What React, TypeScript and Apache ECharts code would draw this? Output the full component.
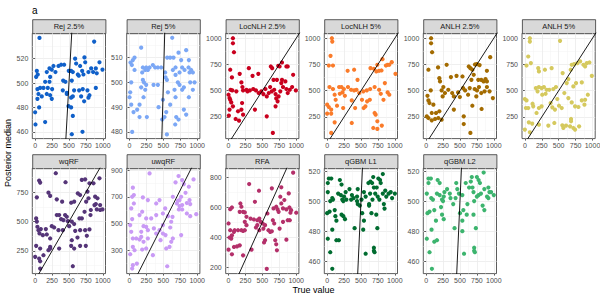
import React, { useEffect, useRef } from "react";
import * as echarts from "echarts";

// ---------- data ----------
const panelTitles = [
  "Rej 2.5%", "Rej 5%", "LocNLH 2.5%", "LocNLH 5%", "ANLH 2.5%", "ANLH 5%",
  "wqRF", "uwqRF", "RFA", "qGBM L1", "qGBM L2",
];

const xTicks = [0, 250, 500, 750, 1000];
const xRange = [-42, 1040];

const rej25 = [[64,537],[872,534],[591,520],[729,521],[740,517],[951,517],[271,514],[345,514],[384,515],[429,515],[606,516],[665,514],[25,510],[15,505],[39,507],[172,509],[212,512],[246,511],[300,509],[497,510],[532,510],[557,509],[631,507],[695,510],[788,509],[828,512],[857,509],[897,512],[911,508],[995,511],[148,501],[222,505],[212,501],[414,502],[448,501],[542,502],[645,506],[714,507],[74,496],[34,495],[123,496],[187,496],[251,495],[409,494],[468,492],[576,494],[650,494],[704,495],[773,494],[897,496],[49,491],[34,487],[98,489],[172,491],[222,490],[246,487],[468,491],[532,488],[557,489],[680,489],[788,488],[724,485],[803,490],[0,476],[59,480],[493,481],[532,480],[557,473],[148,468],[5,466],[700,460],[542,458]];
const rej5 = [[631,518],[172,514],[557,510],[601,510],[650,510],[724,512],[837,513],[15,508],[49,509],[74,510],[34,507],[74,505],[197,506],[246,506],[296,506],[345,507],[379,506],[419,506],[468,506],[187,504],[232,505],[271,505],[527,504],[552,501],[640,505],[680,503],[739,504],[778,506],[813,505],[872,506],[887,504],[911,505],[936,504],[763,509],[877,509],[680,506],[25,500],[10,496],[197,501],[212,500],[246,499],[172,498],[355,499],[419,499],[532,502],[567,496],[665,497],[714,500],[739,499],[778,497],[803,498],[897,500],[961,500],[936,497],[0,494],[25,491],[148,491],[207,494],[232,497],[493,493],[601,491],[680,494],[877,494],[59,488],[113,489],[148,486],[256,486],[429,490],[542,488],[690,486],[724,485],[803,489],[837,487],[517,486],[483,485],[675,483],[39,480],[552,479]];
const locNLH25 = [[65,1000],[65,952],[80,867],[25,700],[50,627],[30,509],[55,503],[0,462],[15,430],[25,414],[40,389],[65,351],[15,320],[5,263],[105,231],[155,215],[140,304],[190,320],[200,383],[165,661],[300,715],[355,642],[440,661],[190,579],[205,535],[215,503],[265,509],[315,503],[365,516],[405,503],[445,478],[390,320],[215,272],[485,494],[515,468],[545,516],[565,446],[595,478],[565,256],[655,98],[625,731],[645,715],[715,604],[735,737],[755,731],[790,769],[855,731],[875,731],[790,604],[840,589],[780,573],[665,604],[675,509],[695,468],[705,427],[695,351],[725,399],[740,446],[765,494],[805,535],[855,516],[875,478],[905,509],[940,535],[955,652],[995,503],[615,535],[640,494],[115,494],[280,494]];
const locNLH5 = [[70,1000],[76,968],[50,832],[25,740],[86,740],[303,690],[399,700],[641,715],[692,709],[742,747],[818,801],[727,684],[768,690],[803,693],[869,740],[894,747],[919,747],[955,772],[1010,661],[853,573],[449,604],[35,535],[86,516],[111,462],[126,414],[177,535],[212,535],[247,516],[227,484],[187,471],[262,452],[308,535],[354,509],[399,503],[434,509],[475,478],[535,494],[586,503],[636,516],[702,535],[768,509],[793,471],[833,414],[894,484],[919,462],[515,414],[566,351],[540,335],[414,335],[364,408],[237,335],[146,357],[0,367],[25,345],[0,282],[60,282],[60,320],[111,199],[60,98],[364,193],[702,288],[717,272],[742,209],[682,145],[742,136],[808,168],[591,399],[631,414]];
const anlh25 = [[73,1000],[73,952],[88,867],[34,700],[176,722],[303,747],[449,642],[537,636],[366,630],[195,620],[205,589],[630,731],[654,715],[683,700],[722,750],[751,753],[790,744],[669,604],[703,652],[771,604],[815,604],[849,589],[898,589],[878,611],[947,820],[898,690],[20,452],[68,503],[34,408],[49,383],[107,367],[83,288],[10,256],[34,240],[83,218],[132,231],[180,240],[146,288],[195,304],[229,224],[229,503],[254,535],[278,478],[244,446],[327,509],[385,478],[410,446],[473,484],[498,440],[410,320],[546,525],[576,503],[620,462],[644,525],[556,256],[556,183],[751,503],[742,446],[815,478],[864,494],[898,535],[937,494],[820,326],[683,357],[654,98],[986,430],[781,535],[717,516]];
const anlh5 = [[74,1000],[74,968],[520,975],[50,826],[25,740],[89,763],[198,715],[208,684],[297,700],[396,715],[559,668],[678,700],[693,747],[728,753],[777,763],[817,779],[866,747],[891,731],[916,763],[955,769],[990,642],[842,579],[757,573],[643,611],[619,573],[717,541],[163,525],[208,535],[248,525],[282,535],[322,509],[361,509],[421,516],[460,535],[188,494],[257,462],[307,471],[0,421],[25,408],[50,335],[15,335],[114,376],[124,351],[173,288],[248,351],[208,335],[381,383],[406,342],[445,320],[480,421],[505,357],[545,335],[584,478],[643,430],[693,389],[742,351],[792,345],[842,408],[891,414],[931,462],[881,367],[683,231],[683,209],[59,199],[109,187],[0,130],[74,104],[208,177],[347,168],[436,193],[554,171],[569,146],[609,168],[668,161],[717,145],[742,130],[802,161]];
const wqrf = [[305,913],[59,850],[74,833],[449,836],[690,856],[739,861],[951,870],[25,707],[197,747],[222,719],[320,690],[399,670],[532,661],[577,670],[631,741],[665,727],[774,756],[803,827],[862,827],[754,670],[789,699],[887,713],[921,699],[877,641],[961,641],[897,650],[961,599],[995,604],[912,604],[823,599],[730,584],[818,556],[690,527],[655,527],[15,527],[25,500],[34,456],[49,427],[64,399],[113,384],[84,436],[158,436],[172,390],[222,356],[246,461],[281,450],[320,556],[355,556],[384,521],[419,513],[443,556],[468,541],[483,504],[503,461],[542,500],[577,479],[592,421],[665,427],[739,427],[803,433],[764,379],[626,364],[542,341],[409,427],[345,427],[532,293],[577,270],[665,293],[749,293],[355,270],[222,284],[222,270],[197,256],[15,293],[74,270],[0,199],[59,184],[74,161],[123,213],[557,119],[74,99]];
const uwqrf = [[296,875],[49,768],[64,713],[39,700],[64,650],[197,695],[271,675],[394,650],[443,675],[640,700],[680,808],[724,855],[778,825],[803,795],[946,830],[877,775],[828,730],[763,700],[739,675],[714,670],[699,650],[739,630],[778,638],[847,653],[887,675],[897,645],[778,605],[729,605],[847,575],[897,555],[986,570],[25,613],[39,533],[10,488],[148,563],[187,588],[246,538],[320,538],[394,563],[493,575],[527,613],[567,555],[635,550],[616,513],[601,470],[493,488],[443,450],[360,463],[271,450],[173,438],[246,475],[207,480],[25,438],[99,388],[49,388],[148,380],[173,400],[207,363],[271,388],[394,425],[493,425],[532,413],[616,363],[542,313],[591,325],[763,413],[640,388],[49,325],[10,270],[74,300],[187,305],[246,313],[345,263],[108,200],[49,188],[39,163],[557,180],[458,375]];
const rfa = [[305,755],[450,710],[640,726],[780,733],[955,831],[0,491],[25,587],[50,598],[175,625],[190,603],[165,569],[215,569],[240,565],[265,536],[240,502],[265,480],[240,446],[215,442],[190,446],[140,446],[90,446],[25,446],[50,412],[15,397],[40,390],[80,435],[390,636],[325,524],[375,518],[425,513],[455,524],[475,502],[505,491],[425,480],[405,464],[455,446],[515,457],[540,480],[575,558],[665,592],[655,513],[675,491],[615,435],[590,446],[640,439],[705,603],[725,585],[740,569],[765,670],[780,625],[805,592],[825,648],[855,585],[890,692],[900,598],[925,580],[915,563],[875,513],[905,513],[1000,563],[805,502],[755,457],[690,379],[705,352],[855,383],[715,312],[540,379],[525,364],[340,316],[80,334],[125,338],[165,345],[0,316],[50,285],[215,278],[565,188]];
const qgbm1 = [[10,512],[25,515],[61,515],[10,506],[76,502],[86,501],[46,500],[0,492],[36,493],[10,475],[46,466],[76,455],[76,481],[112,494],[122,490],[137,487],[137,474],[173,474],[188,514],[213,511],[163,505],[203,504],[224,501],[250,503],[274,506],[239,500],[284,501],[213,491],[239,490],[264,488],[330,508],[366,504],[355,501],[391,502],[406,482],[452,508],[442,503],[442,500],[483,497],[452,498],[508,501],[544,506],[569,503],[518,492],[544,487],[533,481],[569,465],[610,512],[640,513],[665,512],[681,516],[691,509],[732,509],[757,515],[782,514],[792,512],[823,518],[635,505],[670,501],[711,505],[747,503],[772,501],[823,505],[859,507],[874,503],[909,505],[940,506],[960,502],[1001,505],[838,498],[848,495],[620,498],[655,492],[726,491],[742,482],[691,469],[691,467],[701,466],[620,497]];
const qgbm2 = [[10,475],[50,466],[85,455],[80,481],[20,492],[50,493],[10,505],[75,502],[100,501],[35,512],[35,515],[70,515],[120,494],[145,487],[120,473],[160,474],[170,514],[200,512],[160,505],[200,504],[235,501],[260,503],[270,506],[250,500],[220,496],[235,491],[260,488],[310,508],[350,505],[360,502],[400,498],[435,502],[445,512],[420,482],[460,508],[485,505],[500,492],[535,504],[535,487],[535,480],[560,465],[550,494],[585,512],[600,491],[610,498],[635,509],[660,513],[675,516],[685,509],[700,506],[710,500],[700,491],[735,482],[750,516],[775,514],[795,512],[750,503],[775,504],[810,505],[850,519],[835,497],[860,494],[860,508],[900,503],[920,509],[935,506],[960,506],[920,502],[1000,504],[710,469],[710,467],[720,466]];

const panelData = [rej25, rej5, locNLH25, locNLH5, anlh25, anlh5, wqrf, uwqrf, rfa, qgbm1, qgbm2];

const yTicksList = [
  [460, 480, 500, 520],
  [480, 490, 500, 510],
  [250, 500, 750, 1000],
  [250, 500, 750, 1000],
  [250, 500, 750, 1000],
  [250, 500, 750, 1000],
  [250, 500, 750],
  [300, 500, 700, 900],
  [200, 400, 600, 800],
  [460, 480, 500, 520],
  [460, 480, 500, 520],
];
const yRanges = [
  [454.4, 540.8],
  [477.3, 519.8],
  [44, 1047],
  [44, 1047],
  [44, 1047],
  [44, 1047],
  [56, 955],
  [125, 913],
  [156, 860],
  [451.8, 521.8],
  [451.8, 521.8],
];

// ---------- styles ----------
const colors = [
  "#1060C9", "#7BA7F5", "#C9001E", "#FA7B2A", "#A36B00", "#D5C95E",
  "#553578", "#C99AF5", "#B4306A", "#006C30", "#3CB46E",
];
const FONT = "Liberation Sans, Arial, Helvetica, sans-serif";
const colLefts = [32.3, 126.7, 225.7, 324.3, 423.3, 522];
const rowTops = [33.3, 168.3];
const panelW = 73.2;
const panelH = 105.3;
const stripH = 14;

function minorOf(ticks: number[], lo: number, hi: number): number[] {
  const step = ticks.length > 1 ? ticks[1] - ticks[0] : 0;
  const out: number[] = [];
  ticks.forEach((t) => {
    [t - step / 2, t + step / 2].forEach((m) => {
      if (m > lo && m < hi && out.indexOf(m) < 0) out.push(m);
    });
  });
  return out.sort((a, b) => a - b);
}

function buildOption() {
  const grid: any[] = [];
  const xAxis: any[] = [];
  const yAxis: any[] = [];
  const series: any[] = [];
  const graphic: any[] = [];
  const xMinor = minorOf(xTicks, xRange[0], xRange[1]);
  const plain = (v: number) => String(v);

  panelTitles.forEach((title, i) => {
    const r = i < 6 ? 0 : 1;
    const c = i % 6;
    const left = colLefts[c];
    const top = rowTops[r];
    grid.push({
      left, top, width: panelW, height: panelH,
      show: true, backgroundColor: "#ffffff", borderColor: "#333333", borderWidth: 0.8,
      containLabel: false, outerBoundsMode: "none",
    });
    const [ylo, yhi] = yRanges[i];
    const yMinor = minorOf(yTicksList[i], ylo, yhi);
    const labelStyle = { fontSize: 7, color: "#4d4d4d", fontFamily: FONT, formatter: plain };
    xAxis.push({
      type: "value", gridIndex: i, min: xRange[0], max: xRange[1], position: "bottom",
      axisLine: { show: false },
      axisTick: { show: true, length: 2, lineStyle: { color: "#333333", width: 0.8 }, customValues: xTicks },
      axisLabel: { ...labelStyle, margin: 3.5, customValues: xTicks, hideOverlap: false },
      splitLine: { show: true, lineStyle: { color: "#ebebeb", width: 0.8 } },
    });
    xAxis.push({
      type: "value", gridIndex: i, min: xRange[0], max: xRange[1], position: "top",
      axisLine: { show: false },
      axisTick: { show: false, customValues: xMinor },
      axisLabel: { show: false, customValues: xMinor },
      splitLine: { show: true, lineStyle: { color: "#f2f2f2", width: 0.5 } },
    });
    yAxis.push({
      type: "value", gridIndex: i, min: ylo, max: yhi, position: "left",
      axisLine: { show: false },
      axisTick: { show: true, length: 2, lineStyle: { color: "#333333", width: 0.8 }, customValues: yTicksList[i] },
      axisLabel: { ...labelStyle, margin: 4, customValues: yTicksList[i] },
      splitLine: { show: true, lineStyle: { color: "#ebebeb", width: 0.8 } },
    });
    yAxis.push({
      type: "value", gridIndex: i, min: ylo, max: yhi, position: "right",
      axisLine: { show: false },
      axisTick: { show: false, customValues: yMinor },
      axisLabel: { show: false, customValues: yMinor },
      splitLine: { show: true, lineStyle: { color: "#f2f2f2", width: 0.5 } },
    });
    series.push({
      type: "scatter", xAxisIndex: 2 * i, yAxisIndex: 2 * i,
      data: panelData[i], symbolSize: 4.2,
      itemStyle: { color: colors[i], opacity: 1 },
      silent: true,
    });
    series.push({
      type: "line", xAxisIndex: 2 * i, yAxisIndex: 2 * i,
      data: [[-2000, -2000], [3000, 3000]], symbol: "none", clip: true,
      lineStyle: { color: "#000000", width: 0.9 }, silent: true, z: 3,
    });
    graphic.push({
      type: "rect", left: left, top: top - stripH,
      shape: { width: panelW, height: stripH },
      style: { fill: "#d9d9d9", stroke: "#333333", lineWidth: 0.8 },
    });
    graphic.push({
      type: "text", x: left + panelW / 2, y: top - stripH / 2,
      style: { text: title, fontSize: 7.5, fontWeight: "normal", fill: "#1a1a1a", fontFamily: FONT, textAlign: "center", textVerticalAlign: "middle" },
    });
  });

  graphic.push({
    type: "text", x: 32, y: 10,
    style: { text: "a", fontSize: 10, fontWeight: "normal", fill: "#000000", fontFamily: FONT, textAlign: "left", textVerticalAlign: "middle" },
  });
  graphic.push({
    type: "text", x: 7.5, y: 153, rotation: Math.PI / 2,
    style: { text: "Posterior median", fontSize: 9, fontWeight: "normal", fill: "#000000", fontFamily: FONT, textAlign: "center", textVerticalAlign: "middle" },
  });
  graphic.push({
    type: "text", x: 313.5, y: 290,
    style: { text: "True value", fontSize: 9, fontWeight: "normal", fill: "#000000", fontFamily: FONT, textAlign: "center", textVerticalAlign: "middle" },
  });

  return {
    animation: false,
    backgroundColor: "#ffffff",
    grid, xAxis, yAxis, series, graphic,
  };
}

export default function App() {
  const ref = useRef<HTMLDivElement>(null);
  useEffect(() => {
    if (!ref.current) return;
    const chart = echarts.init(ref.current, null, { renderer: "svg" });
    chart.setOption(buildOption() as any);
    return () => chart.dispose();
  }, []);
  return (
    <div
      ref={ref}
      style={{ position: "fixed", left: 0, top: 0, width: 600, height: 300, background: "#fff" }}
    />
  );
}
